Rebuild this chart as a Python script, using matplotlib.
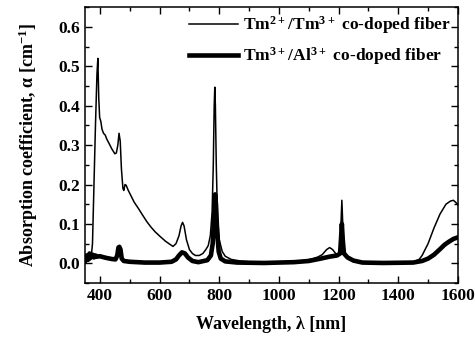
import matplotlib
matplotlib.use("Agg")
import matplotlib.pyplot as plt
from matplotlib.ticker import MultipleLocator

# Tm2+/Tm3+ co-doped fiber (thin line)
wl_a = [350, 360, 370, 375, 380, 385, 390, 393, 396, 399, 403, 407, 412, 418, 423, 430, 440, 450,
        455, 460, 464, 468, 472, 477, 480, 484, 488, 495, 505, 515, 530, 545, 557, 570, 585, 602,
        620, 635, 645, 655, 665, 672, 677, 682, 690, 700, 710, 720, 733, 745, 755, 763, 770, 776,
        780, 783, 785, 787, 790, 794, 800, 810, 820, 840, 870, 900, 950, 1000, 1050, 1080, 1110,
        1130, 1145, 1160, 1170, 1180, 1190, 1200, 1205, 1208, 1211, 1214, 1218, 1225, 1240, 1260,
        1300, 1400, 1450, 1470, 1480, 1500, 1520, 1540, 1560, 1575, 1585, 1595, 1600]
abs_a = [0.01, 0.005, 0.01, 0.05, 0.2, 0.35, 0.48, 0.52, 0.42, 0.37, 0.36, 0.34, 0.33, 0.325, 0.315,
         0.305, 0.29, 0.278, 0.28, 0.30, 0.33, 0.31, 0.24, 0.19, 0.185, 0.20, 0.198, 0.185, 0.17,
         0.155, 0.138, 0.12, 0.106, 0.093, 0.08, 0.068, 0.056, 0.048, 0.043, 0.05, 0.07, 0.095,
         0.104, 0.095, 0.06, 0.035, 0.025, 0.02, 0.02, 0.025, 0.035, 0.045, 0.07, 0.13, 0.25, 0.40,
         0.447, 0.40, 0.25, 0.12, 0.06, 0.03, 0.018, 0.01, 0.006, 0.004, 0.003, 0.004, 0.005, 0.007,
         0.011, 0.016, 0.022, 0.035, 0.04, 0.035, 0.025, 0.022, 0.04, 0.10, 0.16, 0.10, 0.04, 0.02,
         0.01, 0.004, 0.002, 0.002, 0.004, 0.01, 0.02, 0.05, 0.09, 0.125, 0.15, 0.158, 0.16, 0.153,
         0.148]

# Tm3+/Al3+ co-doped fiber (thick line)
wl_b = [350, 355, 360, 365, 370, 375, 380, 385, 390, 400, 420, 440, 452, 458, 462, 465, 469, 473,
        480, 500, 550, 600, 640, 655, 665, 675, 685, 695, 710, 730, 760, 772, 778, 782, 786, 789,
        793, 798, 805, 820, 860, 950, 1050, 1100, 1140, 1170, 1195, 1205, 1208, 1211, 1214, 1218,
        1230, 1250, 1280, 1350, 1450, 1480, 1500, 1520, 1540, 1555, 1570, 1585, 1600]
abs_b = [0.005, 0.02, 0.01, 0.025, 0.015, 0.022, 0.015, 0.02, 0.017, 0.018, 0.014, 0.011, 0.01,
         0.02, 0.04, 0.042, 0.035, 0.012, 0.006, 0.004, 0.002, 0.002, 0.004, 0.01, 0.02, 0.028,
         0.025, 0.015, 0.006, 0.003, 0.008, 0.02, 0.05, 0.11, 0.175, 0.15, 0.08, 0.03, 0.012, 0.005,
         0.002, 0.001, 0.003, 0.006, 0.012, 0.017, 0.02, 0.025, 0.06, 0.10, 0.06, 0.025, 0.015,
         0.007, 0.002, 0.001, 0.002, 0.006, 0.012, 0.022, 0.036, 0.047, 0.055, 0.062, 0.066]

plt.rcParams['font.family'] = ['Liberation Serif', 'DejaVu Serif']
plt.rcParams['font.weight'] = 'bold'
plt.rcParams['mathtext.default'] = 'regular'

fig = plt.figure(figsize=(4.75, 3.39), dpi=100)
ax = fig.add_axes([0.179, 0.165, 0.785, 0.814])

ax.plot(wl_a, abs_a, color='black', lw=1.1, label='Tm$^{2+}$/Tm$^{3+}$ co-doped fiber')
ax.plot(wl_b, abs_b, color='black', lw=3.3, label='Tm$^{3+}$/Al$^{3+}$ co-doped fiber')

ax.set_xlim(350, 1600)
ax.set_ylim(-0.05, 0.65)
ax.xaxis.set_major_locator(MultipleLocator(200))
ax.xaxis.set_minor_locator(MultipleLocator(100))
ax.yaxis.set_major_locator(MultipleLocator(0.1))
ax.yaxis.set_minor_locator(MultipleLocator(0.05))
ax.yaxis.set_major_formatter(matplotlib.ticker.FormatStrFormatter('%.1f'))
ax.tick_params(which='both', direction='in', top=True, right=True, labelsize=12.5, width=1)
ax.tick_params(which='major', length=5)
ax.tick_params(which='minor', length=3)
for s in ax.spines.values():
    s.set_linewidth(1.1)

ax.set_xlabel('Wavelength, λ [nm]', fontsize=13, fontweight='bold', labelpad=9)
ax.set_ylabel('Absorption coefficient, α [cm$^{-1}$]', fontsize=13, fontweight='bold', labelpad=13)

ax.legend(loc='upper right', frameon=False, fontsize=12.5, handlelength=2.8, handletextpad=0.3,
          borderaxespad=0.1, borderpad=0.3, labelspacing=0.55)

fig.savefig('out.png', dpi=100)
